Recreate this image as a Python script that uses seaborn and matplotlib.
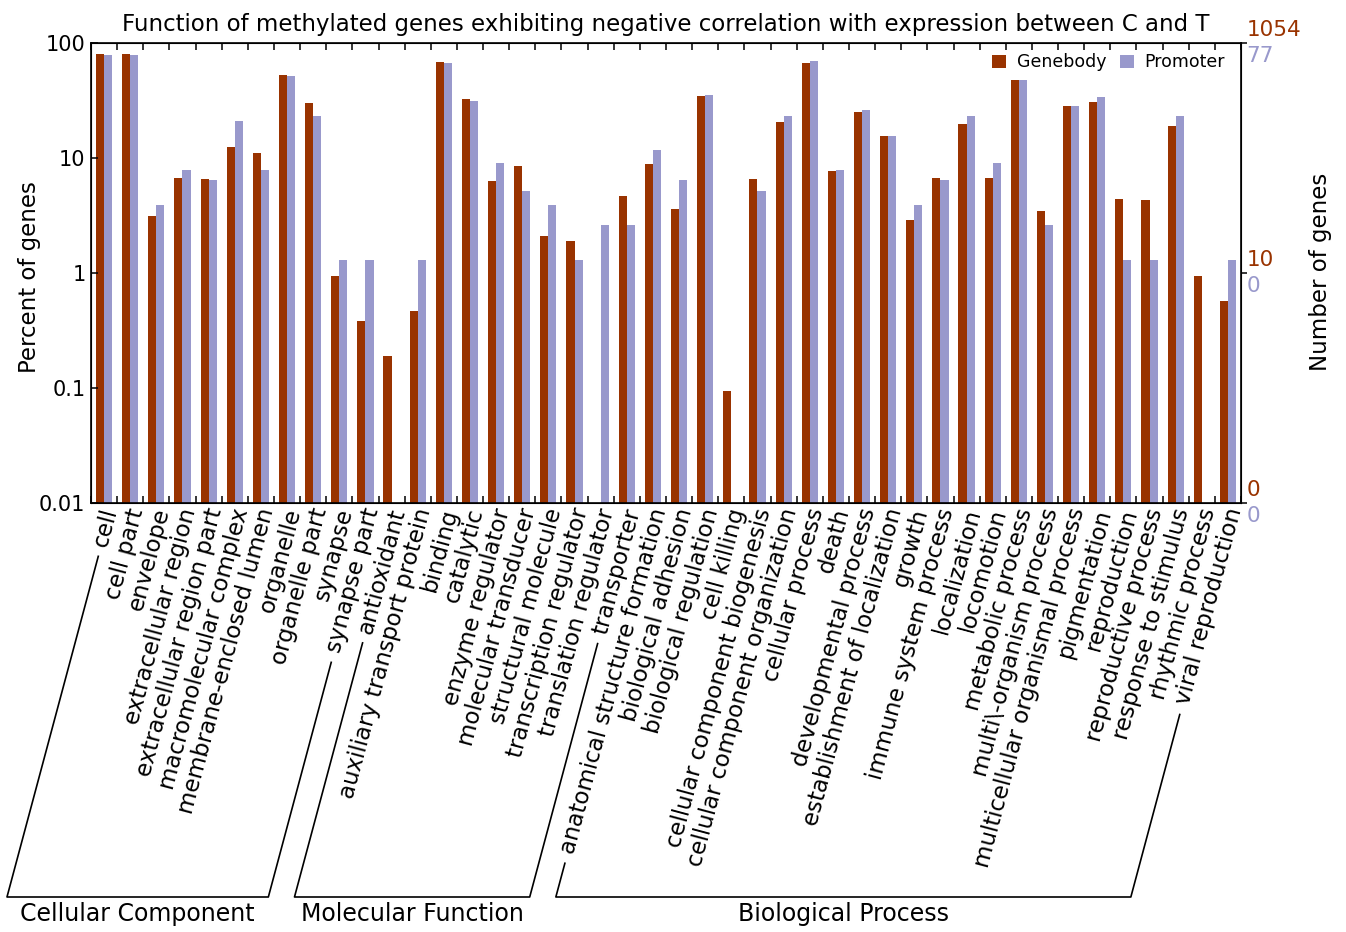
import numpy as np
import pandas as pd
import seaborn as sns
import matplotlib
matplotlib.use("Agg")
from matplotlib import pyplot as plt
from matplotlib import transforms as mtransforms
from matplotlib.lines import Line2D
from matplotlib.patches import Patch
from matplotlib.ticker import NullLocator, FixedLocator

plt.rcParams["font.family"] = ["DejaVu Sans"]

# GO categories, grouped by ontology
cellular_component = [
    "cell", "cell part", "envelope", "extracellular region",
    "extracellular region part", "macromolecular complex",
    "membrane-enclosed lumen", "organelle", "organelle part", "synapse",
    "synapse part",
]
molecular_function = [
    "antioxidant", "auxiliary transport protein", "binding", "catalytic",
    "enzyme regulator", "molecular transducer", "structural molecule",
    "transcription regulator", "translation regulator", "transporter",
]
biological_process = [
    "anatomical structure formation", "biological adhesion",
    "biological regulation", "cell killing", "cellular component biogenesis",
    "cellular component organization", "cellular process", "death",
    "developmental process", "establishment of localization", "growth",
    "immune system process", "localization", "locomotion",
    "metabolic process", "multi\\-organism process",
    "multicellular organismal process", "pigmentation", "reproduction",
    "reproductive process", "response to stimulus", "rhythmic process",
    "viral reproduction",
]
group_names = ["Cellular Component", "Molecular Function", "Biological Process"]

# percent of genes (nan = no bar)
genebody_pct = [
    80.0, 80.0, 3.15, 6.7, 6.6, 12.4, 11.1, 53.0, 30.0, 0.95, 0.38,
    0.19, 0.47, 68.0, 32.6, 6.3, 8.5, 2.1, 1.9, np.nan, 4.7,
    8.9, 3.6, 34.8, 0.095, 6.6, 20.6, 66.6, 7.7, 25.0, 15.6, 2.87, 6.7,
    19.9, 6.7, 48.0, 3.44, 28.3, 30.9, 4.37, 4.29, 19.1, 0.95, 0.57,
]
promoter_pct = [
    77.9, 77.9, 3.9, 7.8, 6.5, 20.8, 7.8, 51.9, 23.4, 1.3, 1.3,
    np.nan, 1.3, 67.5, 31.2, 9.1, 5.2, 3.9, 1.3, 2.6, 2.6,
    11.7, 6.5, 35.1, np.nan, 5.2, 23.4, 70.1, 7.8, 26.0, 15.6, 3.9, 6.5,
    23.4, 9.1, 48.1, 2.6, 28.6, 33.8, 1.3, 1.3, 23.4, np.nan, 1.3,
]
genebody_total = 1054
promoter_total = 77

series_names = ["Genebody", "Promoter"]
red = "#993300"
lav = "#9999cc"

groups = [cellular_component, molecular_function, biological_process]
cats = cellular_component + molecular_function + biological_process

df = pd.DataFrame({
    "term": cats * 2,
    "series": [series_names[0]] * len(cats) + [series_names[1]] * len(cats),
    "pct": genebody_pct + promoter_pct,
}).dropna()

W, H = 1346, 932
fig = plt.figure(figsize=(W / 100, H / 100), dpi=100)
ax = fig.add_axes([91 / W, 1 - 503 / H, 1150 / W, 460 / H])
ax.set_yscale("log")

sns.barplot(
    data=df, x="term", y="pct", hue="series", order=cats,
    hue_order=series_names, palette=[red, lav], width=0.62, gap=0,
    linewidth=0, saturation=1, ax=ax, legend=True,
)
ax.set_ylim(0.01, 100)
ax.set_xlim(-0.5, len(cats) - 0.5)
ax.set_xlabel("")
ax.set_ylabel("")

# y axis (left)
ax.yaxis.set_major_locator(FixedLocator([0.01, 0.1, 1, 10, 100]))
ax.yaxis.set_minor_locator(NullLocator())
ax.set_yticklabels(["0.01", "0.1", "1", "10", "100"])
ax.tick_params(axis="y", direction="in", length=5, width=1.1,
               labelsize=15, pad=4)

# x axis: labels at centres, tick marks at boundaries (top and bottom)
ax.set_xticks(range(len(cats)))
ax.set_xticklabels(cats, rotation=75, ha="right", va="center",
                   rotation_mode="anchor", fontsize=16.5)
ax.set_xticks(np.arange(-0.5, len(cats)), minor=True)
ax.tick_params(axis="x", which="major", length=0, pad=4)
ax.tick_params(axis="x", which="minor", direction="in", length=5,
               width=1.1, top=True, bottom=True)
shift = mtransforms.ScaledTranslation(7 / 100, 0, fig.dpi_scale_trans)
for lab in ax.get_xticklabels():
    lab.set_transform(lab.get_transform() + shift)

for sp in ax.spines.values():
    sp.set_linewidth(1.2)
    sp.set_color("black")
    sp.set_visible(True)

# right axis ticks (counts)
ax2 = ax.twinx()
ax2.set_yscale("log")
ax2.set_ylim(0.01, 100)
ax2.yaxis.set_major_locator(FixedLocator([0.01, 1, 100]))
ax2.yaxis.set_minor_locator(NullLocator())
ax2.set_yticklabels([])
ax2.tick_params(axis="y", direction="out", length=4, width=1.1)
for v in [100, 1, 0.01]:
    ax.annotate(str(int(genebody_total * v / 100)), xy=(1, v),
                xycoords=("axes fraction", "data"), xytext=(4, 2),
                textcoords="offset points", ha="left", va="bottom",
                color=red, fontsize=15.5)
    ax.annotate(str(int(promoter_total * v / 100)), xy=(1, v),
                xycoords=("axes fraction", "data"), xytext=(4, -2),
                textcoords="offset points", ha="left", va="top",
                color=lav, fontsize=15.5)

# legend
if ax.get_legend() is not None:
    ax.get_legend().remove()
handles = [Patch(facecolor=red, edgecolor="none"),
           Patch(facecolor=lav, edgecolor="none")]
ax.legend(handles, series_names, loc="upper right", ncol=2, frameon=False,
          fontsize=12.5, handlelength=0.8, handleheight=0.8,
          handletextpad=0.6, columnspacing=0.8, borderaxespad=0.2,
          bbox_to_anchor=(0.995, 1.0))

ax.set_title("Function of methylated genes exhibiting negative correlation "
             "with expression between C and T", fontsize=16.5, pad=9)
fig.text(30 / W, 1 - 277 / H, "Percent of genes", rotation=90,
         ha="center", va="center", fontsize=16.5)
fig.text(1320 / W, 1 - 272 / H, "Number of genes", rotation=90,
         ha="center", va="center", fontsize=16.5)

# group brackets following label direction
fig.canvas.draw()
renderer = fig.canvas.get_renderer()
labels = ax.get_xticklabels()
slope = np.tan(np.deg2rad(75))
y_base = H - 897
gap = 7
to_fig = fig.transFigure.inverted()


def bracket_points(lab):
    bb = lab.get_window_extent(renderer)
    ax_x, ax_y = lab.get_transform().transform(lab.get_position())
    y0 = bb.y0 - gap
    x0 = ax_x - (ax_y - y0) / slope
    xb = ax_x - (ax_y - y_base) / slope
    return (x0, y0), (xb, y_base)


start = 0
for name, grp in zip(group_names, groups):
    first, last = labels[start], labels[start + len(grp) - 1]
    (fx0, fy0), (fxb, fyb) = bracket_points(first)
    (lx0, ly0), (lxb, lyb) = bracket_points(last)
    pts = np.array([(fx0, fy0), (fxb, fyb), (lxb, lyb), (lx0, ly0)])
    pts = to_fig.transform(pts)
    fig.add_artist(Line2D(pts[:, 0], pts[:, 1], color="black", lw=1.2,
                          transform=fig.transFigure))
    cx = (pts[1, 0] + pts[2, 0]) / 2
    fig.text(cx, 1 - 914 / H, name, ha="center", va="center", fontsize=17)
    start += len(grp)

fig.savefig("out.png", dpi=100)
